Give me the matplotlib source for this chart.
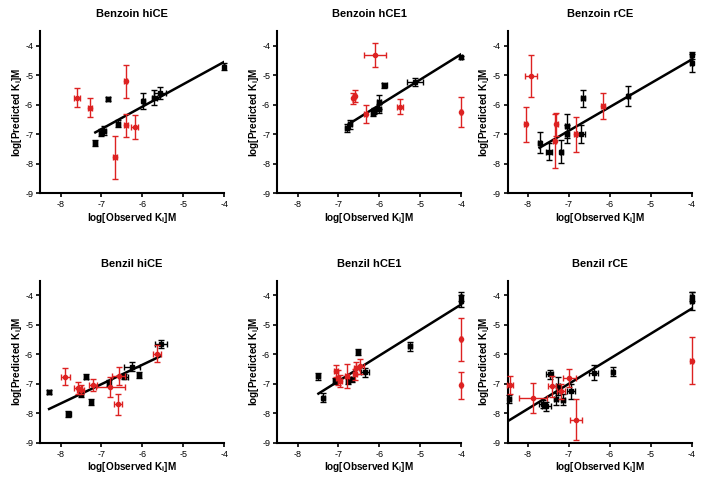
import matplotlib.pyplot as plt
import numpy as np

plt.rcParams['font.family'] = ['Liberation Sans', 'DejaVu Sans']

titles = ['Benzoin hiCE', 'Benzoin hCE1', 'Benzoin rCE',
          'Benzil hiCE', 'Benzil hCE1', 'Benzil rCE']

# black points: x, y, xerr, yerr
black_x = [
    [-7.15, -7.02, -6.93, -6.84, -6.60, -5.98, -5.71, -5.56, -4.00],
    [-6.79, -6.72, -6.16, -6.13, -6.01, -6.01, -5.88, -5.13, -4.00],
    [-7.72, -7.49, -7.19, -7.05, -7.05, -6.70, -6.66, -5.55, -4.00, -4.00],
    [-8.28, -7.81, -7.51, -7.38, -7.25, -6.82, -6.46, -6.26, -6.08, -5.55],
    [-7.49, -7.37, -7.09, -6.76, -6.66, -6.52, -6.35, -5.25, -4.00, -4.00],
    [-8.46, -7.63, -7.55, -7.47, -7.31, -7.27, -7.15, -6.95, -6.40, -5.93, -4.00, -4.00],
]
black_y = [
    [-7.30, -6.95, -6.88, -5.82, -6.64, -5.88, -5.76, -5.60, -4.72],
    [-6.79, -6.67, -6.28, -6.22, -6.13, -5.91, -5.35, -5.22, -4.40],
    [-7.29, -7.59, -7.59, -6.72, -7.00, -7.00, -5.79, -5.71, -4.33, -4.59],
    [-7.27, -8.02, -7.35, -6.75, -7.62, -6.96, -6.75, -6.42, -6.71, -5.65],
    [-6.74, -7.47, -6.91, -6.91, -6.85, -5.92, -6.60, -5.72, -4.05, -4.19],
    [-7.51, -7.68, -7.76, -6.68, -7.51, -7.08, -7.53, -7.25, -6.62, -6.59, -4.05, -4.19],
]
black_xerr = [
    [0.05, 0.05, 0.05, 0.05, 0.05, 0.04, 0.06, 0.15, 0.03],
    [0.05, 0.04, 0.05, 0.04, 0.04, 0.04, 0.06, 0.20, 0.03],
    [0.04, 0.08, 0.04, 0.04, 0.04, 0.10, 0.04, 0.04, 0.03, 0.03],
    [0.05, 0.06, 0.05, 0.05, 0.04, 0.04, 0.10, 0.20, 0.04, 0.15],
    [0.05, 0.04, 0.04, 0.05, 0.04, 0.04, 0.10, 0.04, 0.03, 0.03],
    [0.04, 0.10, 0.10, 0.08, 0.05, 0.05, 0.05, 0.10, 0.10, 0.04, 0.03, 0.03],
]
black_yerr = [
    [0.10, 0.12, 0.15, 0.07, 0.12, 0.28, 0.25, 0.20, 0.12],
    [0.12, 0.15, 0.10, 0.10, 0.15, 0.25, 0.08, 0.14, 0.06],
    [0.35, 0.30, 0.40, 0.40, 0.30, 0.30, 0.30, 0.35, 0.13, 0.30],
    [0.08, 0.10, 0.10, 0.08, 0.10, 0.10, 0.10, 0.15, 0.10, 0.15],
    [0.12, 0.15, 0.10, 0.10, 0.10, 0.10, 0.15, 0.15, 0.15, 0.20],
    [0.15, 0.15, 0.15, 0.15, 0.20, 0.30, 0.20, 0.25, 0.25, 0.15, 0.15, 0.30],
]

# red points
red_x = [
    [-7.60, -7.28, -6.41, -6.41, -6.19, -6.67],
    [-6.10, -6.64, -6.60, -6.33, -5.50, -4.00],
    [-8.06, -7.92, -7.31, -7.35, -6.84, -6.17],
    [-7.88, -7.57, -7.51, -7.20, -6.78, -6.60, -6.58, -5.65],
    [-7.05, -7.01, -6.97, -6.79, -6.60, -6.56, -6.47, -4.00, -4.00],
    [-8.45, -7.88, -7.41, -7.19, -6.99, -6.82, -4.00],
]
red_y = [
    [-5.76, -6.10, -5.20, -6.69, -6.75, -7.79],
    [-4.32, -5.79, -5.71, -6.31, -6.07, -6.25],
    [-6.67, -5.04, -6.67, -7.23, -7.01, -6.05],
    [-6.75, -7.15, -7.20, -7.04, -7.11, -7.69, -6.73, -5.97],
    [-6.57, -6.79, -6.90, -6.74, -6.68, -6.45, -6.40, -5.49, -7.05],
    [-7.04, -7.47, -7.08, -7.25, -6.79, -8.21, -6.21],
]
red_xerr = [
    [0.07, 0.05, 0.04, 0.05, 0.08, 0.04],
    [0.27, 0.04, 0.04, 0.04, 0.07, 0.03],
    [0.04, 0.15, 0.04, 0.04, 0.04, 0.04],
    [0.12, 0.10, 0.08, 0.10, 0.35, 0.10, 0.15, 0.10],
    [0.05, 0.06, 0.05, 0.05, 0.05, 0.06, 0.10, 0.03, 0.03],
    [0.07, 0.35, 0.10, 0.10, 0.15, 0.15, 0.03],
]
red_yerr = [
    [0.31, 0.32, 0.56, 0.39, 0.40, 0.74],
    [0.41, 0.20, 0.20, 0.30, 0.25, 0.52],
    [0.58, 0.71, 0.40, 0.90, 0.60, 0.45],
    [0.30, 0.20, 0.15, 0.20, 0.35, 0.35, 0.30, 0.30],
    [0.20, 0.25, 0.20, 0.40, 0.20, 0.20, 0.25, 0.72, 0.47],
    [0.30, 0.50, 0.35, 0.25, 0.30, 0.70, 0.80],
]

# fitted line end points
fit_x = [[-7.15, -4.0], [-6.74, -4.0], [-7.72, -4.0],
         [-8.28, -5.57], [-7.49, -4.0], [-8.47, -4.0]]
fit_y = [[-6.94, -4.55], [-6.65, -4.29], [-7.46, -4.47],
         [-7.85, -6.07], [-7.33, -4.31], [-8.24, -4.45]]

fig = plt.figure(figsize=(7.16, 4.83), dpi=100)
lefts = [0.056, 0.387, 0.709]
bottoms = [0.600, 0.083]

for i in range(6):
    ax = fig.add_axes([lefts[i % 3], bottoms[i // 3], 0.257, 0.336])

    ax.plot(fit_x[i], fit_y[i], color='black', lw=1.8, zorder=2)
    ax.errorbar(black_x[i], black_y[i], xerr=black_xerr[i], yerr=black_yerr[i],
                fmt='s', ms=3, color='black', ecolor='black', elinewidth=1.0,
                capsize=2.5, capthick=1.0, clip_on=False, zorder=3)
    ax.errorbar(red_x[i], red_y[i], xerr=red_xerr[i], yerr=red_yerr[i],
                fmt='o', ms=3, color='#dd2222', ecolor='#dd2222', elinewidth=1.0,
                capsize=2.5, capthick=1.0, clip_on=False, zorder=4)

    ax.set_xlim(-8.5, -4)
    ax.set_ylim(-9, -3.5)
    ax.set_xticks([-8, -7, -6, -5, -4])
    ax.set_yticks([-9, -8, -7, -6, -5, -4])
    ax.set_xticklabels(['-8', '-7', '-6', '-5', '-4'])
    ax.set_yticklabels(['-9', '-8', '-7', '-6', '-5', '-4'])
    for s in ['top', 'right']:
        ax.spines[s].set_visible(False)
    for s in ['left', 'bottom']:
        ax.spines[s].set_linewidth(1.5)
    ax.tick_params(direction='out', length=3, width=1.2, labelsize=6.5, pad=2)
    ax.set_title(titles[i], fontsize=8, fontweight='bold', pad=10)
    ax.set_xlabel(r'log[Observed K$_\mathregular{i}$]M', fontsize=7.2, fontweight='bold', labelpad=1)
    ax.set_ylabel(r'log[Predicted K$_\mathregular{i}$]M', fontsize=7.2, fontweight='bold', labelpad=1)

plt.savefig('out.png', dpi=100)
